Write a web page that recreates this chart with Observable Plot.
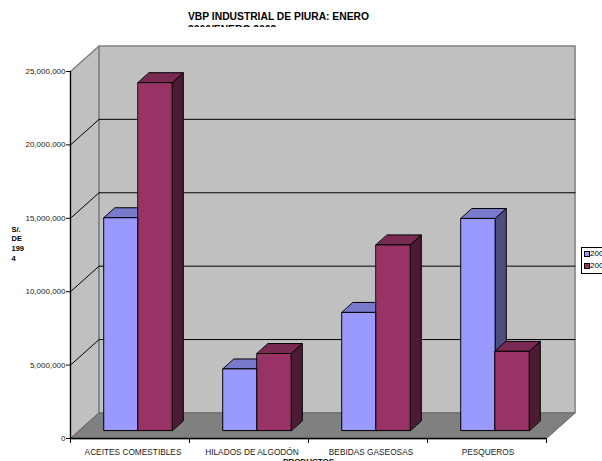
<!DOCTYPE html>
<html>
<head>
<meta charset="utf-8">
<script src="https://cdn.jsdelivr.net/npm/d3@7"></script>
<script src="https://cdn.jsdelivr.net/npm/@observablehq/plot@0.6"></script>
<style>
html,body{margin:0;padding:0;background:#fff;overflow:hidden}
#wrap{position:relative;width:602px;height:461px;overflow:hidden;font-family:"Liberation Sans",Arial,sans-serif}
#title{position:absolute;left:188px;width:240px;top:11px;height:16px;overflow:hidden;text-align:left;font-weight:bold;font-size:10.3px;line-height:12.5px;color:#000}
#legend{position:absolute;left:581px;top:247px;width:40px;height:25px;border:1px solid #000;background:#fff;font-size:8px;line-height:12px;box-sizing:content-box}
#legend div{position:relative;height:12px;padding-left:8px}
#legend i{position:absolute;left:2px;top:3px;width:4px;height:4px;border:1px solid #000}
svg{position:absolute;left:0;top:0}
</style>
</head>
<body>
<div id="wrap">
<div id="title">VBP INDUSTRIAL DE PIURA: ENERO<br>2000/ENERO 2003</div>
<div id="legend"></div>
</div>
<script>
const categories = ["ACEITES COMESTIBLES", "HILADOS DE ALGODÓN", "BEBIDAS GASEOSAS", "PESQUEROS"];
const seriesNames = ["2000", "2003"];
const valuesA = [14500000, 4200000, 8050000, 14450000];
const valuesB = [23700000, 5250000, 12650000, 5400000];
const yTicks = [0, 5000000, 10000000, 15000000, 20000000, 25000000];
const yLabel = "S/.\nDE\n199\n4";
const xLabel = "PRODUCTOS";
const frontColors = ["#9999ff", "#993366"];
const topColors = ["#7a7acc", "#7a2952"];
const sideColors = ["#4d4d80", "#4d1a33"];
const labelNudge = [3, 3, 3, 1];

// oblique projection: depth 0 is the front of the floor, depth 1 the back wall
const yMax = 25000000, nCat = categories.length;
const DX = 0.24, DY = 1740000;
const P = (c, v, d) => ({c: c + d * DX, v: v + d * DY});
const poly = (id, pts) => pts.map(p => ({...p, id}));
const depthA = 0.31, depthB = 0.70;

const wallLeft = poly("wl", [P(0,0,0), P(0,yMax,0), P(0,yMax,1), P(0,0,1)]);
const wallBack = poly("wb", [P(0,0,1), P(0,yMax,1), P(nCat,yMax,1), P(nCat,0,1)]);
const floor = poly("fl", [P(0,0,0), P(0,0,1), P(nCat,0,1), P(nCat,0,0)]);
const grid = yTicks.slice(1, -1).flatMap(t => [P(0,t,0), P(0,t,1), P(nCat,t,1)].map(p => ({...p, id: t})));

const bars = [];
categories.forEach((cat, i) => {
  [valuesA[i], valuesB[i]].forEach((val, s) => {
    bars.push({i, s, val, x0: i + 0.208 + s * 0.286, x1: i + 0.208 + (s + 1) * 0.286});
  });
});
const face = (pts, fill, stroke, sw) => Plot.line(pts, {x: "c", y: "v", z: "id", fill, stroke, strokeWidth: sw, curve: "linear-closed"});
const barMarks = bars.flatMap(b => [
  face(poly("s", [P(b.x1,0,depthA), P(b.x1,b.val,depthA), P(b.x1,b.val,depthB), P(b.x1,0,depthB)]), sideColors[b.s], "#000", 1),
  face(poly("t", [P(b.x0,b.val,depthA), P(b.x1,b.val,depthA), P(b.x1,b.val,depthB), P(b.x0,b.val,depthB)]), topColors[b.s], "#000", 1),
  face(poly("f", [P(b.x0,0,depthA), P(b.x1,0,depthA), P(b.x1,b.val,depthA), P(b.x0,b.val,depthA)]), frontColors[b.s], "#000", 1)
]);

const chart = Plot.plot({
  width: 602, height: 461,
  marginLeft: 70, marginRight: 56, marginTop: 71, marginBottom: 23,
  style: {fontFamily: '"Liberation Sans",Arial,sans-serif', background: "transparent", overflow: "visible"},
  x: {domain: [0, nCat], axis: null},
  y: {domain: [0, yMax], axis: null},
  marks: [
    face(wallLeft, "#c0c0c0", "#808080", 1.5),
    face(wallBack, "#c0c0c0", "#808080", 1.5),
    face(floor, "#808080", "#666", 1),
    Plot.line(grid, {x: "c", y: "v", z: "id", stroke: "#000", strokeWidth: 1}),
    ...barMarks,
    Plot.axisY({ticks: yTicks, tickFormat: d3.format(","), tickSize: 4, tickPadding: 1, fontSize: 8, color: "#222", stroke: "#000", label: null}),
    Plot.axisX({ticks: d3.range(nCat + 1), tickFormat: () => "", tickSize: 5, stroke: "#000", label: null}),
    Plot.ruleX([0], {stroke: "#000", strokeWidth: 1.2}),
    Plot.ruleY([0], {stroke: "#000", strokeWidth: 1.5}),
    ...categories.map((c, i) => Plot.text([c], {x: () => i + 0.5, y: () => 0, dx: labelNudge[i], dy: 14, text: d => d, fontSize: 8.3, fill: "#222"})),
    Plot.text([xLabel], {x: () => nCat / 2, y: () => 0, dy: 23, text: d => d, fontSize: 8, fontWeight: "bold", fill: "#000"}),
    Plot.text([yLabel], {frameAnchor: "left", dx: -59, dy: -12, text: d => d, textAnchor: "start", fontSize: 7.5, fontWeight: "bold", lineHeight: 1.3, fill: "#000"})
  ]
});
document.getElementById("wrap").prepend(chart);

const legend = document.getElementById("legend");
seriesNames.forEach((n, i) => {
  const row = document.createElement("div");
  const sw = document.createElement("i");
  sw.style.background = frontColors[i];
  row.append(sw, n);
  legend.append(row);
});
</script>
</body>
</html>
